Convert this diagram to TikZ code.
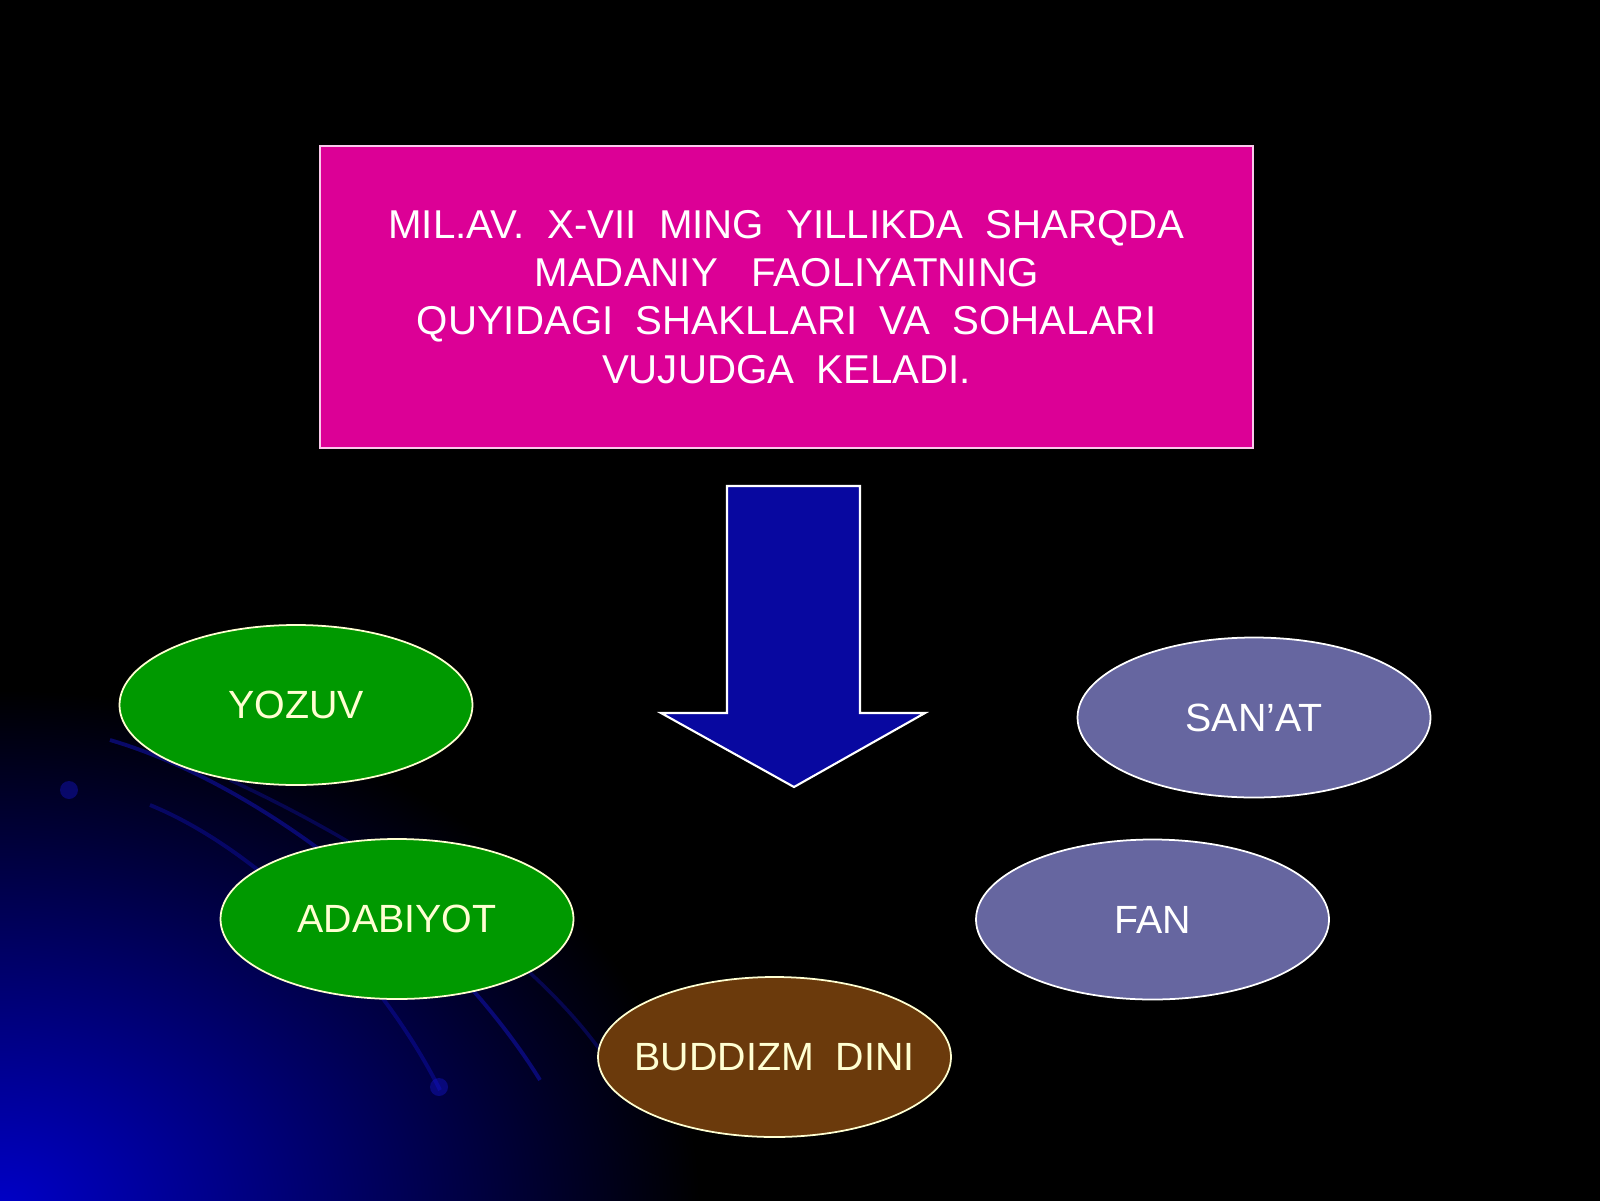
\documentclass[tikz,border=0pt]{standalone}
\usepackage{fontspec}
\setmainfont{Liberation Sans}
\usepackage{tikz}
\usetikzlibrary{shapes.geometric}

\definecolor{boxpink}{RGB}{220,0,150}
\definecolor{boxedge}{RGB}{250,200,235}
\definecolor{leafgreen}{RGB}{0,153,0}
\definecolor{slate}{RGB}{102,102,160}
\definecolor{cocoa}{RGB}{107,58,12}
\definecolor{navyfill}{RGB}{8,8,160}
\definecolor{glow}{RGB}{0,0,200}
\definecolor{streak}{RGB}{20,20,210}
\definecolor{cream}{RGB}{255,255,210}

\begin{document}
\begin{tikzpicture}[
  field/.style={ellipse, draw=cream, line width=0.5pt, minimum width=3.53cm,
    minimum height=1.6cm, inner sep=0pt, font=\fontsize{11.2}{13}\selectfont},
  greenfield/.style={field, fill=leafgreen, text=cream},
  slatefield/.style={field, fill=slate, draw=white, text=white}
]
  \useasboundingbox (0,0) rectangle (16,12);
  \fill[black] (-0.2,-0.2) rectangle (16.2,12.2);

  % blue glow in the lower left corner
  \begin{scope}
    \clip (-0.2,-0.2) rectangle (16.2,12.2);
    \shade[inner color=glow, outer color=black] (0,-0.1) ellipse (7 and 5.2);
    \draw[streak, opacity=0.45, line width=1.1pt] (1.1,4.6) .. controls (2.8,4.1) and (4.6,2.5) .. (5.4,1.2);
    \draw[streak, opacity=0.35, line width=1.1pt] (1.5,3.95) .. controls (2.6,3.5) and (3.8,2.3) .. (4.4,1.1);
    \draw[streak, opacity=0.3, line width=1pt] (2.3,4.2) .. controls (3.6,3.6) and (5.2,2.6) .. (6.0,1.5);
    \fill[streak, opacity=0.4] (0.69,4.1) circle (0.09);
    \fill[streak, opacity=0.4] (4.39,1.13) circle (0.09);
  \end{scope}

  % heading box
  \node[draw=boxedge, fill=boxpink, line width=0.6pt, minimum width=9.33cm,
    minimum height=3.02cm, align=center, text=white,
    font=\fontsize{11.45}{13.7}\selectfont] (heading) at (7.865,9.03)
    {MIL.AV.~ X-VII~ MING~ YILLIKDA~ SHARQDA\\
     MADANIY~~ FAOLIYATNING\\
     QUYIDAGI~ SHAKLLARI~ VA~ SOHALARI\\
     VUJUDGA~ KELADI.};

  % block arrow
  \draw[draw=white, fill=navyfill, line width=0.6pt]
    (7.27,7.14) -- (8.60,7.14) -- (8.60,4.87) -- (9.25,4.87) -- (7.94,4.13)
    -- (6.61,4.87) -- (7.27,4.87) -- cycle;

  % fields of activity
  \node[greenfield] (yozuv) at (2.96,4.95) {YOZUV};
  \node[greenfield] (adabiyot) at (3.97,2.81) {\makebox[0pt]{ADABIYOT}};
  \node[field, fill=cocoa, text=cream] (buddizm) at (7.745,1.43) {\makebox[0pt]{BUDDIZM~ DINI}};
  \node[slatefield] (fan) at (11.525,2.805) {FAN};
  \node[slatefield] (sanat) at (12.54,4.825) {SAN’AT};

\end{tikzpicture}
\end{document}
